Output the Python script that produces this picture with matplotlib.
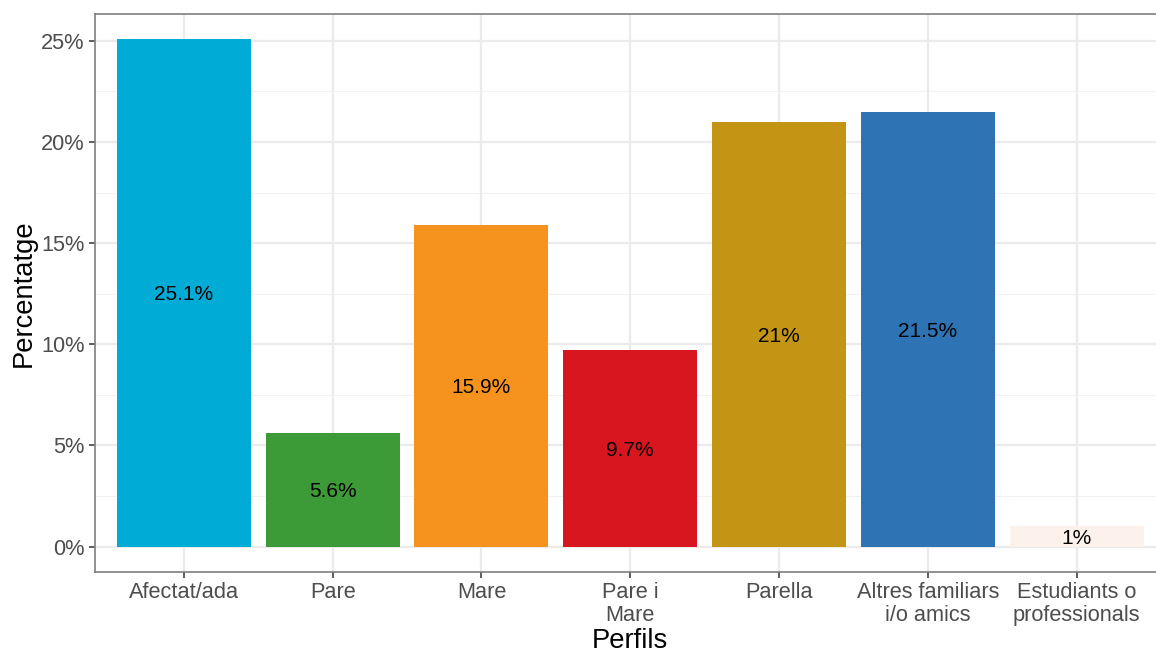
import matplotlib
matplotlib.use("Agg")
import matplotlib.pyplot as plt
from matplotlib.ticker import FixedLocator

plt.rcParams['font.family'] = ['Liberation Sans', 'DejaVu Sans']

categories = ["Afectat/ada", "Pare", "Mare", "Pare i\nMare", "Parella",
              "Altres familiars\ni/o amics", "Estudiants o\nprofessionals"]
values = [25.1, 5.6, 15.9, 9.7, 21.0, 21.5, 1.0]
labels = ["25.1%", "5.6%", "15.9%", "9.7%", "21%", "21.5%", "1%"]
colors = ["#00ABD5", "#3D9B37", "#F6931F", "#D8161F", "#C49515", "#2E74B5", "#FDF1EC"]
yticks = [0, 5, 10, 15, 20, 25]
ytick_labels = ["0%", "5%", "10%", "15%", "20%", "25%"]

W, H = 1156, 653
fig = plt.figure(figsize=(W / 100, H / 100), dpi=100)

x = list(range(1, len(categories) + 1))
xmin, xmax = 0.4, 7.6
ymax_data = max(values)
ymin, ymax = -0.05 * ymax_data, ymax_data * 1.05

# panel in pixels
left_px, top_px, bottom_px = 94.5, 13.5, 572
step = (1076 - 183) / 6.0
right_px = left_px + (xmax - xmin) * step
ax = fig.add_axes([left_px / W, 1 - bottom_px / H, (right_px - left_px) / W, (bottom_px - top_px) / H])

ax.set_xlim(xmin, xmax)
ax.set_ylim(ymin, ymax)

# grid
for v in [2.5, 7.5, 12.5, 17.5, 22.5]:
    ax.axhline(v, color="#F2F2F2", lw=0.8, zorder=0)
for v in yticks:
    ax.axhline(v, color="#EBEBEB", lw=1.6, zorder=0)
for v in x:
    ax.axvline(v, color="#EBEBEB", lw=1.6, zorder=0)

ax.bar(x, values, width=0.9, color=colors, zorder=2)
for xi, v, lab in zip(x, values, labels):
    ax.text(xi, v / 2, lab, ha="center", va="center_baseline", fontsize=15, color="black", zorder=3)

ax.yaxis.set_major_locator(FixedLocator(yticks))
ax.set_yticklabels(ytick_labels)
ax.set_xticks(x)
ax.set_xticklabels(categories, linespacing=1.15)
ax.tick_params(axis="both", labelsize=15.7, colors="#333333", length=4, width=1.1,
               labelcolor="#4D4D4D", pad=3)

for s in ax.spines.values():
    s.set_color("#7F7F7F")
    s.set_linewidth(1.2)

ax.set_xlabel("Perfils", fontsize=19.7, color="black", labelpad=1)
ax.set_ylabel("Percentatge", fontsize=19.7, color="black", labelpad=3)

fig.savefig("out.png", dpi=100)
